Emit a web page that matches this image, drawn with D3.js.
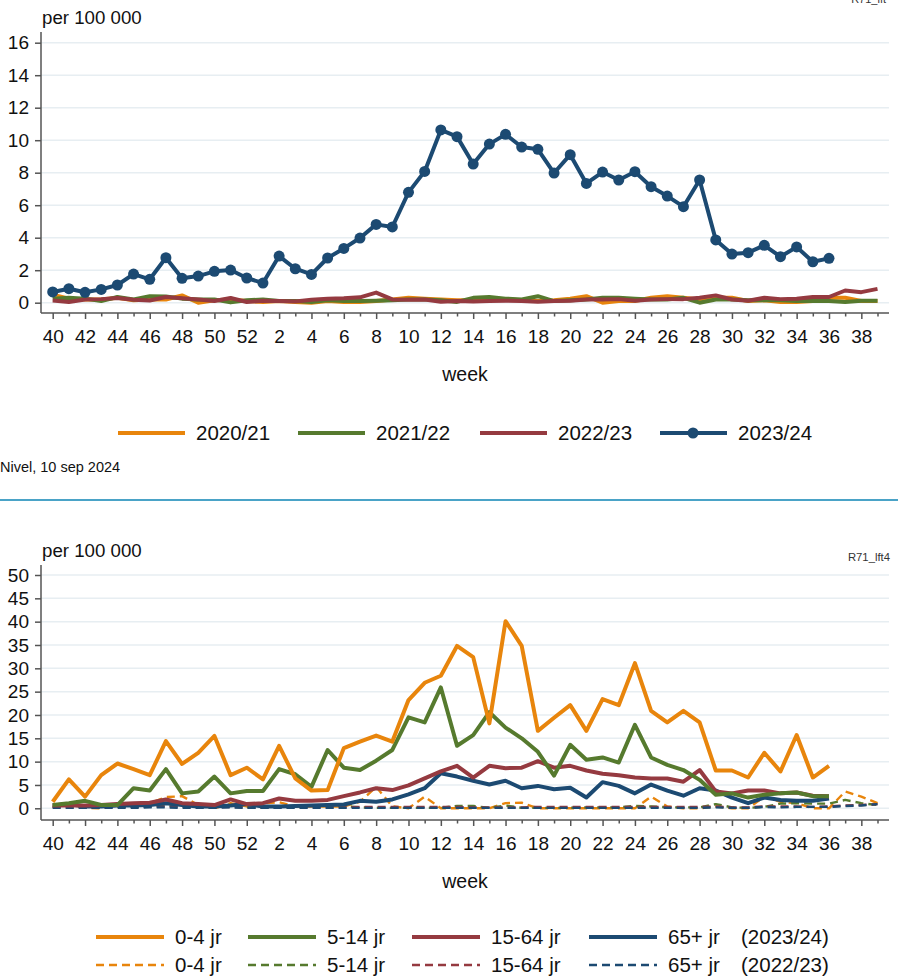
<!DOCTYPE html>
<html>
<head>
<meta charset="utf-8">
<script src="https://cdn.jsdelivr.net/npm/d3@7"></script>
<style>
  body { margin: 0; background: #fff; }
  text { font-family: "Liberation Sans", Arial, sans-serif; fill: #111; }
</style>
</head>
<body>
<script>
// weeks of the season, week 40 up to week 39
let weeks = [40,41,42,43,44,45,46,47,48,49,50,51,52,1,2,3,4,5,6,7,8,9,10,11,12,13,14,15,16,17,18,19,20,21,22,23,24,25,26,27,28,29,30,31,32,33,34,35,36,37,38,39];

// top chart, per season
let s2020 = [0.5,0.25,0.2,0.2,0.3,0.15,0.2,0.2,0.45,0.0,0.15,0.2,0.1,
             0.05,0.1,0.05,0.0,0.1,0.05,0.05,0.1,0.2,0.3,0.25,0.2,
             0.15,0.15,0.25,0.2,0.15,0.1,0.15,0.25,0.4,0.0,0.1,0.1,
             0.3,0.4,0.3,0.2,0.3,0.3,0.1,0.15,0.05,0.05,0.1,0.3,0.3,0.1,0.1];
let s2021 = [0.25,0.3,0.25,0.1,0.35,0.2,0.4,0.38,0.25,0.2,0.2,0.02,0.15,
             0.2,0.1,0.1,0.05,0.15,0.1,0.1,0.12,0.15,0.2,0.2,0.15,
             0.05,0.3,0.35,0.25,0.2,0.4,0.1,0.15,0.2,0.3,0.3,0.25,
             0.2,0.2,0.3,0.0,0.2,0.2,0.15,0.15,0.15,0.1,0.1,0.1,0.05,0.12,0.12];
let s2022 = [0.14,0.04,0.2,0.22,0.29,0.18,0.14,0.35,0.27,0.2,0.1,0.29,0.04,
             0.12,0.1,0.08,0.18,0.25,0.27,0.33,0.62,0.2,0.18,0.2,0.06,
             0.1,0.08,0.1,0.12,0.1,0.06,0.1,0.12,0.2,0.2,0.22,0.12,
             0.2,0.22,0.22,0.3,0.45,0.2,0.12,0.3,0.22,0.25,0.35,0.35,0.75,0.65,0.85];
let s2023 = [0.66,0.86,0.64,0.82,1.09,1.76,1.44,2.77,1.50,1.64,1.93,2.01,1.52,
             1.21,2.87,2.09,1.74,2.75,3.34,3.98,4.82,4.66,6.79,8.08,10.63,
             10.22,8.53,9.76,10.36,9.58,9.44,7.98,9.11,7.34,8.04,7.55,8.06,
             7.14,6.56,5.91,7.55,3.86,2.99,3.08,3.53,2.83,3.43,2.52,2.73];

// bottom chart, age groups 2023/24
let age04 = [1.4,6.2,2.5,7.1,9.6,8.4,7.1,14.4,9.5,11.9,15.5,7.1,8.7,
             6.2,13.4,6.4,3.8,3.9,12.9,14.3,15.6,14.3,23.2,26.9,28.4,
             34.8,32.4,18.2,40.1,34.8,16.6,19.4,22.1,16.6,23.4,22.1,31.1,
             20.9,18.4,20.9,18.4,8.1,8.1,6.6,11.9,7.9,15.7,6.6,9.1];
let age514 = [0.7,1.1,1.6,0.7,0.7,4.3,3.8,8.4,3.2,3.6,6.8,3.2,3.7,
              3.7,8.4,7.3,4.6,12.5,8.7,8.2,10.2,12.5,19.5,18.4,25.9,
              13.4,15.7,20.6,17.3,15.0,12.1,7.0,13.6,10.4,10.9,9.8,17.9,
              10.9,9.3,8.2,6.1,2.9,3.2,2.3,2.9,3.2,3.4,2.6,2.6];
let age1564 = [0.6,0.6,0.6,0.7,0.9,1.1,1.2,1.9,1.1,0.9,0.7,1.9,0.9,
               1.1,2.1,1.6,1.6,1.8,2.6,3.4,4.3,3.9,4.9,6.4,7.9,
               9.1,6.6,9.1,8.6,8.7,10.1,8.7,9.1,8.1,7.4,7.1,6.6,
               6.4,6.4,5.7,8.2,3.6,3.2,3.8,3.8,3.2,3.4,2.7,2.6];
let age65 = [0.6,0.9,0.4,0.4,0.6,0.6,0.7,1.1,0.7,0.4,0.4,0.6,0.9,
             0.4,0.4,0.5,0.6,0.7,0.8,1.6,1.4,1.9,3.0,4.3,7.5,
             6.8,5.9,5.1,5.9,4.3,4.8,4.1,4.4,2.3,5.6,4.8,3.2,
             5.1,3.8,2.7,4.3,3.8,2.3,1.1,2.3,1.8,1.6,1.6,2.1];

// bottom chart, age groups 2022/23 (dashed)
let prev04 = [0.4,0.7,0.1,0.0,1.1,0.4,1.1,2.4,2.6,0.7,0.0,1.1,0.4,
              1.1,1.3,0.4,0.4,0.4,0.4,1.4,4.6,0.4,0.0,2.5,0.0,
              0.0,0.0,0.0,1.1,1.2,0.0,0.0,0.0,0.0,0.0,0.0,0.0,
              2.5,0.4,0.0,0.0,0.4,0.0,0.0,2.5,1.4,1.1,0.0,0.0,3.6,2.5,1.1];
let prev514 = [0.3,0.5,0.2,0.2,0.3,0.3,0.5,0.6,0.4,0.3,0.2,0.8,0.2,
               0.2,0.3,0.2,0.5,0.8,0.5,0.2,0.1,0.1,0.1,0.1,0.1,
               0.5,0.5,0.1,0.6,0.1,0.1,0.1,0.1,0.2,0.2,0.2,0.5,
               0.4,0.2,0.2,0.2,0.9,0.2,0.1,0.3,1.0,1.1,1.0,1.0,1.8,1.1,0.7];
let prev1564 = [0.2,0.2,0.1,0.2,0.3,0.3,0.3,0.4,0.2,0.2,0.2,0.3,0.2,
                0.1,0.2,0.2,0.2,0.2,0.2,0.3,0.3,0.3,0.3,0.3,0.3,
                0.3,0.2,0.2,0.2,0.2,0.3,0.3,0.3,0.3,0.3,0.3,0.3,
                0.3,0.3,0.3,0.3,0.4,0.2,0.2,0.4,0.4,0.4,0.3,0.4,0.6,0.7,0.9];
let prev65 = [0.1,0.1,0.1,0.1,0.1,0.1,0.2,0.2,0.1,0.1,0.1,0.2,0.1,
              0.1,0.1,0.1,0.1,0.1,0.1,0.1,0.1,0.1,0.1,0.1,0.1,
              0.1,0.1,0.1,0.1,0.1,0.1,0.1,0.1,0.1,0.1,0.1,0.1,
              0.1,0.1,0.1,0.1,0.2,0.1,0.1,0.3,0.2,0.3,0.3,0.3,0.5,0.6,0.9];

let topTicks = [0,2,4,6,8,10,12,14,16];
let bottomTicks = [0,5,10,15,20,25,30,35,40,45,50];
let seasonNames = ["2020/21","2021/22","2022/23","2023/24"];
let ageNames = ["0-4 jr","5-14 jr","15-64 jr","65+ jr"];

let orange = "#e8850c", green = "#567a2e", red = "#953a40", blue = "#1c4a72";
let grid = "#e7eef2", axisCol = "#555";

let svg = d3.select("body").append("svg")
            .attr("width",898).attr("height",978);

let x = d3.scaleLinear().domain([0,51]).range([52.7,877.5]);

function drawFrame(g, y, ticks, yTopAxis, yAxisLine){
    g.selectAll(".grid").data(ticks).enter().append("line")
        .attr("x1",41).attr("x2",889)
        .attr("y1",d=>y(d)).attr("y2",d=>y(d))
        .style("stroke",grid).style("stroke-width",1.5);

    let yAxis = d3.axisLeft(y).tickValues(ticks).tickSize(6).tickPadding(6);
    let ya = g.append("g").attr("transform","translate(41,0)").call(yAxis);
    ya.select(".domain").remove();
    ya.selectAll("line").style("stroke",axisCol).style("stroke-width",1.5);
    ya.selectAll("text").style("font-size","19px").style("font-family","Liberation Sans, Arial");
    g.append("line").attr("x1",41).attr("x2",41).attr("y1",yTopAxis).attr("y2",yAxisLine)
        .style("stroke",axisCol).style("stroke-width",1.5);

    let xAxis = d3.axisBottom(x).tickValues(d3.range(52))
        .tickSize(6).tickPadding(11)
        .tickFormat((d,i)=> i%2==0 ? weeks[d] : "");
    let xa = g.append("g").attr("transform","translate(0,"+yAxisLine+")").call(xAxis);
    xa.select(".domain").remove();
    xa.selectAll("line").style("stroke",axisCol).style("stroke-width",1.5)
        .attr("y2",(d,i)=> i%2==0 ? 6 : 3.5);
    xa.selectAll("text").style("font-size","19px").style("font-family","Liberation Sans, Arial");
    g.append("line").attr("x1",41).attr("x2",889).attr("y1",yAxisLine).attr("y2",yAxisLine)
        .style("stroke",axisCol).style("stroke-width",1.5);

    g.append("text").attr("x",465).attr("y",yAxisLine+68).attr("text-anchor","middle")
        .style("font-size","19.5px").text("week");
}

function drawLine(g, y, values, color, width, dash){
    let line = d3.line().x((d,i)=>x(i)).y(d=>y(d)).curve(d3.curveLinear);
    g.append("path").datum(values).attr("d",line)
        .style("fill","none").style("stroke",color).style("stroke-width",width)
        .style("stroke-linejoin","round")
        .style("stroke-dasharray",dash ? "8,5" : null);
}

// ---------- top chart ----------
let topG = svg.append("g");
let yTop = d3.scaleLinear().domain([0,16]).range([302.7,42.7]);

topG.append("text").attr("x",886).attr("y",3).attr("text-anchor","end")
    .style("font-size","11px").style("fill","#333").text("R71_lft");
topG.append("text").attr("x",42).attr("y",24).style("font-size","18.7px").text("per 100 000");

drawFrame(topG, yTop, topTicks, 32, 313);

drawLine(topG, yTop, s2020, orange, 4);
drawLine(topG, yTop, s2021, green, 4);
drawLine(topG, yTop, s2022, red, 4);
drawLine(topG, yTop, s2023, blue, 4);
topG.selectAll(".dot").data(s2023).enter().append("circle")
    .attr("cx",(d,i)=>x(i)).attr("cy",d=>yTop(d)).attr("r",5.5)
    .style("fill",blue);

// top legend
let legX = [118,298,480,660];
let legCol = [orange,green,red,blue];
let tl = topG.selectAll(".leg").data(seasonNames).enter().append("g");
tl.append("line").attr("x1",(d,i)=>legX[i]).attr("x2",(d,i)=>legX[i]+67)
    .attr("y1",433).attr("y2",433)
    .style("stroke",(d,i)=>legCol[i]).style("stroke-width",4);
tl.append("text").attr("x",(d,i)=>legX[i]+78).attr("y",440)
    .style("font-size","20.5px").text(d=>d);
topG.append("circle").attr("cx",693).attr("cy",433).attr("r",5.5).style("fill",blue);

svg.append("text").attr("x",0).attr("y",472).style("font-size","14.5px").text("Nivel, 10 sep 2024");
svg.append("line").attr("x1",0).attr("x2",898).attr("y1",500).attr("y2",500)
    .style("stroke","#4aa3c7").style("stroke-width",2);

// ---------- bottom chart ----------
let bot = svg.append("g");
let yBot = d3.scaleLinear().domain([0,50]).range([808.3,575]);

bot.append("text").attr("x",890).attr("y",561).attr("text-anchor","end")
    .style("font-size","11.3px").style("fill","#333").text("R71_lft4");
bot.append("text").attr("x",42).attr("y",557).style("font-size","18.7px").text("per 100 000");

drawFrame(bot, yBot, bottomTicks, 565, 820);

drawLine(bot, yBot, prev04, orange, 2.4, true);
drawLine(bot, yBot, prev514, green, 2.4, true);
drawLine(bot, yBot, prev1564, red, 2.4, true);
drawLine(bot, yBot, prev65, blue, 2.4, true);
drawLine(bot, yBot, age65, blue, 4);
drawLine(bot, yBot, age1564, red, 4);
drawLine(bot, yBot, age514, green, 4);
drawLine(bot, yBot, age04, orange, 4);

// bottom legend, two rows
let ageX = [96,248,412,589];
let rows = [{y:937, dash:false, label:"(2023/24)"},{y:965, dash:true, label:"(2022/23)"}];
rows.forEach(function(r){
    let lg = bot.selectAll(".row"+r.y).data(ageNames).enter().append("g");
    lg.append("line").attr("x1",(d,i)=>ageX[i]).attr("x2",(d,i)=>ageX[i]+68)
        .attr("y1",r.y).attr("y2",r.y)
        .style("stroke",(d,i)=>legCol[i]).style("stroke-width",r.dash ? 2.4 : 4)
        .style("stroke-dasharray",r.dash ? "8,5" : null);
    lg.append("text").attr("x",(d,i)=>ageX[i]+79).attr("y",r.y+7)
        .style("font-size","20.5px").text(d=>d);
    bot.append("text").attr("x",741).attr("y",r.y+7).style("font-size","20.5px").text(r.label);
});
</script>
</body>
</html>
